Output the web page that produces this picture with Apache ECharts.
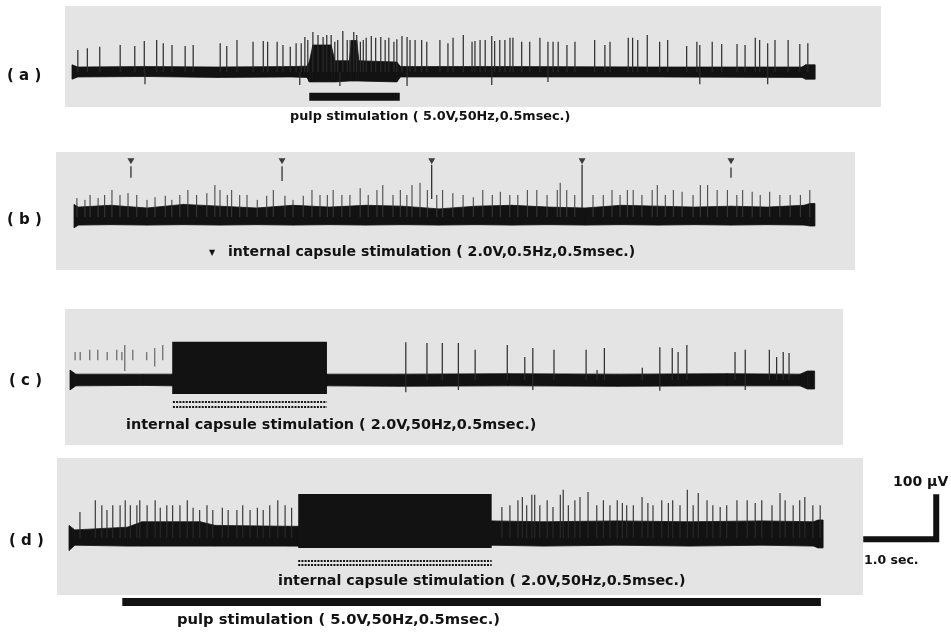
<!DOCTYPE html>
<html><head><meta charset="utf-8">
<script src="https://cdn.jsdelivr.net/npm/echarts@6/dist/echarts.min.js"></script>
<style>html,body{margin:0;padding:0;background:#fff}#c{width:951px;height:632px}</style>
</head><body><div id="c"></div>
<script>
// ---------- DATA (time in s, potential in µV, relative to each trace start / baseline) ----------
// (a) pulp stimulation
const bandA_t  = [0, 0.08, 1.0, 2.0, 3.0, 3.22, 3.25, 3.30, 3.55, 3.60, 3.80, 3.83, 3.90, 3.93, 4.45, 4.50, 6.0, 8.0, 10.0, 10.05, 10.18];
const bandA_hi = [16, 11, 12, 11, 12, 13, 22, 60, 60, 25, 25, 70, 70, 25, 22, 12, 12, 11, 11, 16, 16];
const bandA_lo = [-16,-11,-10,-12,-11,-12,-22,-22,-22,-22,-20,-20,-20,-20,-22,-11,-11,-11,-12,-16,-16];
const spikeA_t = [0.08,0.21,0.38,0.66,0.86,0.99,1.16,1.25,1.37,1.55,1.66,2.03,2.12,2.26,2.48,2.62,2.68,2.81,2.89,2.99,3.07,3.14,3.19,3.23,3.30,3.37,3.44,3.49,3.55,3.60,3.64,3.71,3.77,3.81,3.86,3.90,3.95,3.99,4.03,4.10,4.16,4.23,4.29,4.34,4.41,4.45,4.52,4.59,4.63,4.70,4.79,4.86,5.04,5.15,5.22,5.36,5.48,5.52,5.59,5.66,5.75,5.79,5.86,5.93,6.00,6.04,6.16,6.27,6.41,6.52,6.59,6.66,6.78,6.89,7.16,7.30,7.37,7.62,7.68,7.75,7.88,8.05,8.16,8.42,8.56,8.60,8.77,8.90,9.11,9.22,9.36,9.42,9.53,9.63,9.81,9.97,10.08];
const spikeA_v = [49,53,56,60,58,69,71,64,60,58,60,64,58,71,67,69,67,67,60,56,64,64,78,71,89,82,78,82,82,67,71,91,71,71,89,82,67,71,76,80,76,78,71,76,67,73,80,78,71,71,71,67,71,64,76,82,67,69,71,71,80,69,71,71,76,76,67,67,76,67,67,67,60,67,71,60,67,76,76,71,82,67,71,58,67,60,67,62,62,60,76,71,64,71,71,62,64];
const dipA_t = [1.00,3.12,3.67,4.59,5.75,6.52,8.60,9.53];
const dipA_v = [-27,-29,-31,-31,-29,-22,-27,-27];
const pulpA_t = [3.25, 4.49];
const pulpA_v = -55;

// (b) internal capsule stimulation 0.5 Hz
const bandB_t  = [0,0.06,0.5,1.0,1.5,2.0,2.5,3.0,3.5,4.0,4.5,5.0,5.5,6.0,6.5,7.0,7.5,8.0,8.5,9.0,9.5,10.0,10.08,10.15];
const bandB_hi = [28,22,26,20,28,24,20,26,22,26,24,18,24,26,22,20,26,24,22,24,22,26,30,30];
const bandB_lo = [-24,-18,-17,-18,-17,-18,-17,-18,-17,-18,-17,-18,-17,-18,-17,-18,-17,-18,-17,-18,-17,-18,-20,-20];
const spikeB_t = [0.04,0.15,0.22,0.33,0.42,0.52,0.63,0.74,0.86,1.00,1.11,1.25,1.34,1.45,1.56,1.68,1.82,1.93,2.00,2.10,2.16,2.27,2.37,2.51,2.64,2.73,2.89,3.00,3.14,3.26,3.37,3.47,3.55,3.67,3.78,3.92,4.03,4.15,4.23,4.37,4.47,4.56,4.63,4.74,4.84,4.97,5.05,5.19,5.33,5.47,5.60,5.73,5.84,5.97,6.08,6.21,6.34,6.48,6.62,6.66,6.75,6.86,7.11,7.25,7.37,7.48,7.58,7.66,7.78,7.92,7.99,8.10,8.21,8.33,8.48,8.58,8.68,8.81,8.95,9.08,9.16,9.29,9.40,9.53,9.67,9.81,9.95,10.08];
const spikeB_v = [42,38,49,42,49,60,49,53,49,38,44,47,38,49,60,49,53,71,60,49,60,49,49,38,47,60,47,38,47,60,49,49,60,49,49,64,49,60,71,49,60,49,71,76,60,49,60,53,49,44,60,49,56,49,49,60,60,49,60,76,60,49,49,49,60,49,60,60,49,60,71,49,60,56,49,71,71,60,60,49,60,56,49,56,49,49,49,60];
const stimB_t   = [0.78, 2.85, 4.90, 6.96, 9.00];
const artB_top  = [113, 113, 116, 116, 110];
const artB_bot  = [87, 80, 40, 20, 87];
const arrowB_v  = 124;

// (c) internal capsule stimulation 50 Hz
const bandC_t  = [0, 0.08, 1.0, 1.40, 3.52, 4.5, 6.0, 7.5, 9.0, 10.0, 10.1, 10.2];
const bandC_hi = [22, 13, 13, 13, 13, 13, 14, 13, 14, 13, 20, 20];
const bandC_lo = [-22,-13,-12,-13,-13,-14,-13,-14,-13,-13,-20,-20];
const burstC_t = [1.40, 3.52];
const burstC_v = [-31, 85];
const preC_t   = [0.07,0.14,0.27,0.38,0.51,0.64,0.71,0.75,0.86,1.05,1.16,1.27];
const preC_top = [62,62,67,67,62,67,62,78,67,62,71,78];
const preC_bot = [44,44,44,44,44,44,44,20,44,44,30,44];
const spikeC_t = [4.60,4.89,5.10,5.32,5.55,5.99,6.23,6.34,6.63,7.07,7.22,7.32,7.84,8.08,8.25,8.33,8.45,9.11,9.25,9.58,9.68,9.77,9.85];
const spikeC_v = [84,82,82,82,67,78,51,71,67,67,22,71,27,73,71,62,78,62,67,67,51,62,60];
const dipC_t = [4.60,5.32,6.34,8.08,9.25];
const dipC_v = [-27,-22,-22,-24,-22];
const icC_t = [1.41, 3.52];
const icC_v = [-49, -60];

// (d) pulp + internal capsule stimulation
const bandD_t  = [0, 0.08, 0.8, 1.0, 1.8, 2.0, 3.0, 3.14, 5.79, 6.5, 7.5, 8.5, 9.5, 10.2, 10.26, 10.33];
const bandD_hi = [28, 18, 24, 36, 36, 28, 26, 26, 38, 36, 38, 36, 38, 36, 40, 40];
const bandD_lo = [-28,-16,-18,-18,-18,-18,-18,-18,-16,-18,-16,-18,-16,-18,-22,-22];
const burstD_t = [3.14, 5.79];
const burstD_v = [-22, 98];
const spikeD_t = [0.15,0.36,0.45,0.52,0.60,0.70,0.77,0.84,0.93,0.97,1.07,1.18,1.25,1.34,1.42,1.52,1.62,1.70,1.79,1.89,1.97,2.10,2.18,2.30,2.38,2.48,2.58,2.66,2.75,2.86,2.96,3.05,
  5.93,6.04,6.15,6.21,6.27,6.34,6.38,6.45,6.55,6.63,6.73,6.77,6.84,6.93,7.00,7.11,7.23,7.32,7.41,7.51,7.58,7.64,7.73,7.85,7.93,8.00,8.12,8.21,8.27,8.37,8.47,8.55,8.62,8.74,8.82,8.92,9.01,9.15,9.29,9.40,9.49,9.63,9.74,9.81,9.92,10.01,10.08,10.19,10.29];
const spikeD_v = [58,84,73,62,73,73,84,73,73,84,73,84,67,73,73,73,84,67,62,73,62,67,62,62,73,62,67,62,73,84,73,67,
  69,73,84,91,73,96,96,73,84,69,96,107,73,84,91,102,73,84,73,84,78,73,73,91,78,73,84,78,84,73,107,73,100,84,73,69,73,84,84,78,84,73,100,84,73,84,91,73,73];
const icD_t = [3.14, 5.79];
const icD_v = [-51, -60];
const pulpD_t = [0.73, 10.30];
const pulpD_v = -142;
const scaleT = [10.88, 11.88];   // 1.0 sec
const scaleV = [-3, 97];         // 100 µV

// ---------- LAYOUT ----------
const PX_S = 73, PX_UV = 0.45, T_MAX = 12, V_MIN = -160, V_MAX = 140;
const panels = [{x0:72, base:72}, {x0:74, base:217}, {x0:70, base:380}, {x0:69, base:538}];
const INK = '#121212';

function seg(i, data, draw, z) {
  return {type:'custom', xAxisIndex:i, yAxisIndex:i, clip:false, silent:true, z: z || 2, data, renderItem: draw};
}
function bandSeries(i, T, HI, LO) {
  const data = T.slice(0, -1).map((t, k) => [t, HI[k], LO[k], T[k+1], HI[k+1], LO[k+1]]);
  return seg(i, data, (p, api) => {
    const a = api.coord([api.value(0), api.value(1)]);
    const b = api.coord([api.value(3), api.value(4)]);
    const c = api.coord([api.value(3), api.value(5)]);
    const d = api.coord([api.value(0), api.value(2)]);
    return {type:'polygon', shape:{points:[a, b, c, d]}, style:{fill:INK, stroke:INK, lineWidth:0.8}};
  });
}
function spikeSeries(i, T, V0, V1, color, w) {
  const data = T.map((t, k) => [t, Array.isArray(V0) ? V0[k] : V0, V1[k]]);
  return seg(i, data, (p, api) => {
    const a = api.coord([api.value(0), api.value(1)]);
    const b = api.coord([api.value(0), api.value(2)]);
    return {type:'line', shape:{x1:a[0], y1:a[1], x2:b[0], y2:b[1]}, style:{stroke:color, lineWidth:w}};
  }, 3);
}
function blockSeries(i, T, V) {
  return seg(i, [[T[0], V[0], T[1], V[1]]], (p, api) => {
    const a = api.coord([api.value(0), api.value(3)]);
    const b = api.coord([api.value(2), api.value(1)]);
    return {type:'rect', shape:{x:a[0], y:a[1], width:b[0]-a[0], height:b[1]-a[1]}, style:{fill:INK}};
  });
}
function hbarSeries(i, T, levels, w, dash) {
  const data = levels.map(v => [T[0], T[1], v]);
  return seg(i, data, (p, api) => {
    const a = api.coord([api.value(0), api.value(2)]);
    const b = api.coord([api.value(1), api.value(2)]);
    return {type:'line', shape:{x1:a[0], y1:a[1], x2:b[0], y2:b[1]},
      style:{stroke:INK, lineWidth:w, lineDash: dash || null}};
  });
}

const series = [
  bandSeries(0, bandA_t, bandA_hi, bandA_lo),
  spikeSeries(0, spikeA_t, 0, spikeA_v, '#2a2a2a', 1.2),
  spikeSeries(0, dipA_t, 0, dipA_v, '#2a2a2a', 1.2),
  hbarSeries(0, pulpA_t, [pulpA_v], 8),

  bandSeries(1, bandB_t, bandB_hi, bandB_lo),
  spikeSeries(1, spikeB_t, 0, spikeB_v, '#3a3a3a', 1),
  spikeSeries(1, stimB_t, artB_bot, artB_top, '#222', 1.2),
  {type:'scatter', xAxisIndex:1, yAxisIndex:1, silent:true, symbol:'triangle', symbolRotate:180,
   symbolSize:[7,6], itemStyle:{color:INK}, data: stimB_t.map(t => [t, arrowB_v])},

  bandSeries(2, bandC_t, bandC_hi, bandC_lo),
  blockSeries(2, burstC_t, burstC_v),
  spikeSeries(2, preC_t, preC_bot, preC_top, '#777', 1.4),
  spikeSeries(2, spikeC_t, 0, spikeC_v, '#2a2a2a', 1.2),
  spikeSeries(2, dipC_t, 0, dipC_v, '#2a2a2a', 1.2),
  hbarSeries(2, icC_t, icC_v, 2, [2, 1.2]),

  bandSeries(3, bandD_t, bandD_hi, bandD_lo),
  blockSeries(3, burstD_t, burstD_v),
  spikeSeries(3, spikeD_t, 0, spikeD_v, '#2a2a2a', 1.1),
  hbarSeries(3, icD_t, icD_v, 2, [2, 1.2]),
  hbarSeries(3, pulpD_t, [pulpD_v], 8),
  seg(3, [[scaleT[0], scaleT[1], scaleV[0], scaleV[1]]], (p, api) => {
    const a = api.coord([api.value(0), api.value(2)]);
    const b = api.coord([api.value(1), api.value(2)]);
    const c = api.coord([api.value(1), api.value(3)]);
    return {type:'polyline', shape:{points:[a, b, c]}, style:{stroke:INK, lineWidth:6, fill:null, lineJoin:'miter'}};
  })
];

function txt(text, x, y, size, align) {
  return {type:'text', x, y, z:5, silent:true,
    style:{text, font:'bold ' + size + 'px "DejaVu Sans"', fill:INK,
      textAlign: align || 'left', align: align || 'left', textVerticalAlign:'middle', verticalAlign:'middle'}};
}
function panel(x, y, w, h) {
  return {type:'rect', x, y, z:0, silent:true, shape:{x:0, y:0, width:w, height:h}, style:{fill:'#e4e4e4'}};
}

const chart = echarts.init(document.getElementById('c'), null, {renderer:'canvas'});
chart.setOption({
  animation:false,
  backgroundColor:'#ffffff',
  grid: panels.map(p => ({left:p.x0, top:p.base - V_MAX*PX_UV, width:T_MAX*PX_S, height:(V_MAX - V_MIN)*PX_UV})),
  xAxis: panels.map((p, i) => ({type:'value', gridIndex:i, min:0, max:T_MAX, show:false})),
  yAxis: panels.map((p, i) => ({type:'value', gridIndex:i, min:V_MIN, max:V_MAX, show:false})),
  graphic: {elements: [
    panel(65, 6, 816, 101),
    panel(56, 152, 799, 118),
    panel(65, 309, 778, 136),
    panel(57, 458, 806, 137),
    txt('( a )', 7, 76.5, 15),
    txt('( b )', 7, 220, 15),
    txt('( c )', 9, 381, 15),
    txt('( d )', 9, 541, 15),
    txt('pulp stimulation ( 5.0V,50Hz,0.5msec.)', 290, 117, 12.8),
    txt('▼', 212, 253, 8, 'center'),
    txt('internal capsule stimulation ( 2.0V,0.5Hz,0.5msec.)', 228, 252, 14.1),
    txt('internal capsule stimulation ( 2.0V,50Hz,0.5msec.)', 126, 425, 14.4),
    txt('internal capsule stimulation ( 2.0V,50Hz,0.5msec.)', 278, 581, 14.3),
    txt('pulp stimulation ( 5.0V,50Hz,0.5msec.)', 177, 620, 14.75),
    txt('100 μV', 893, 482, 14),
    txt('1.0 sec.', 864, 561, 12.5)
  ]},
  series
});
</script>
</body></html>
